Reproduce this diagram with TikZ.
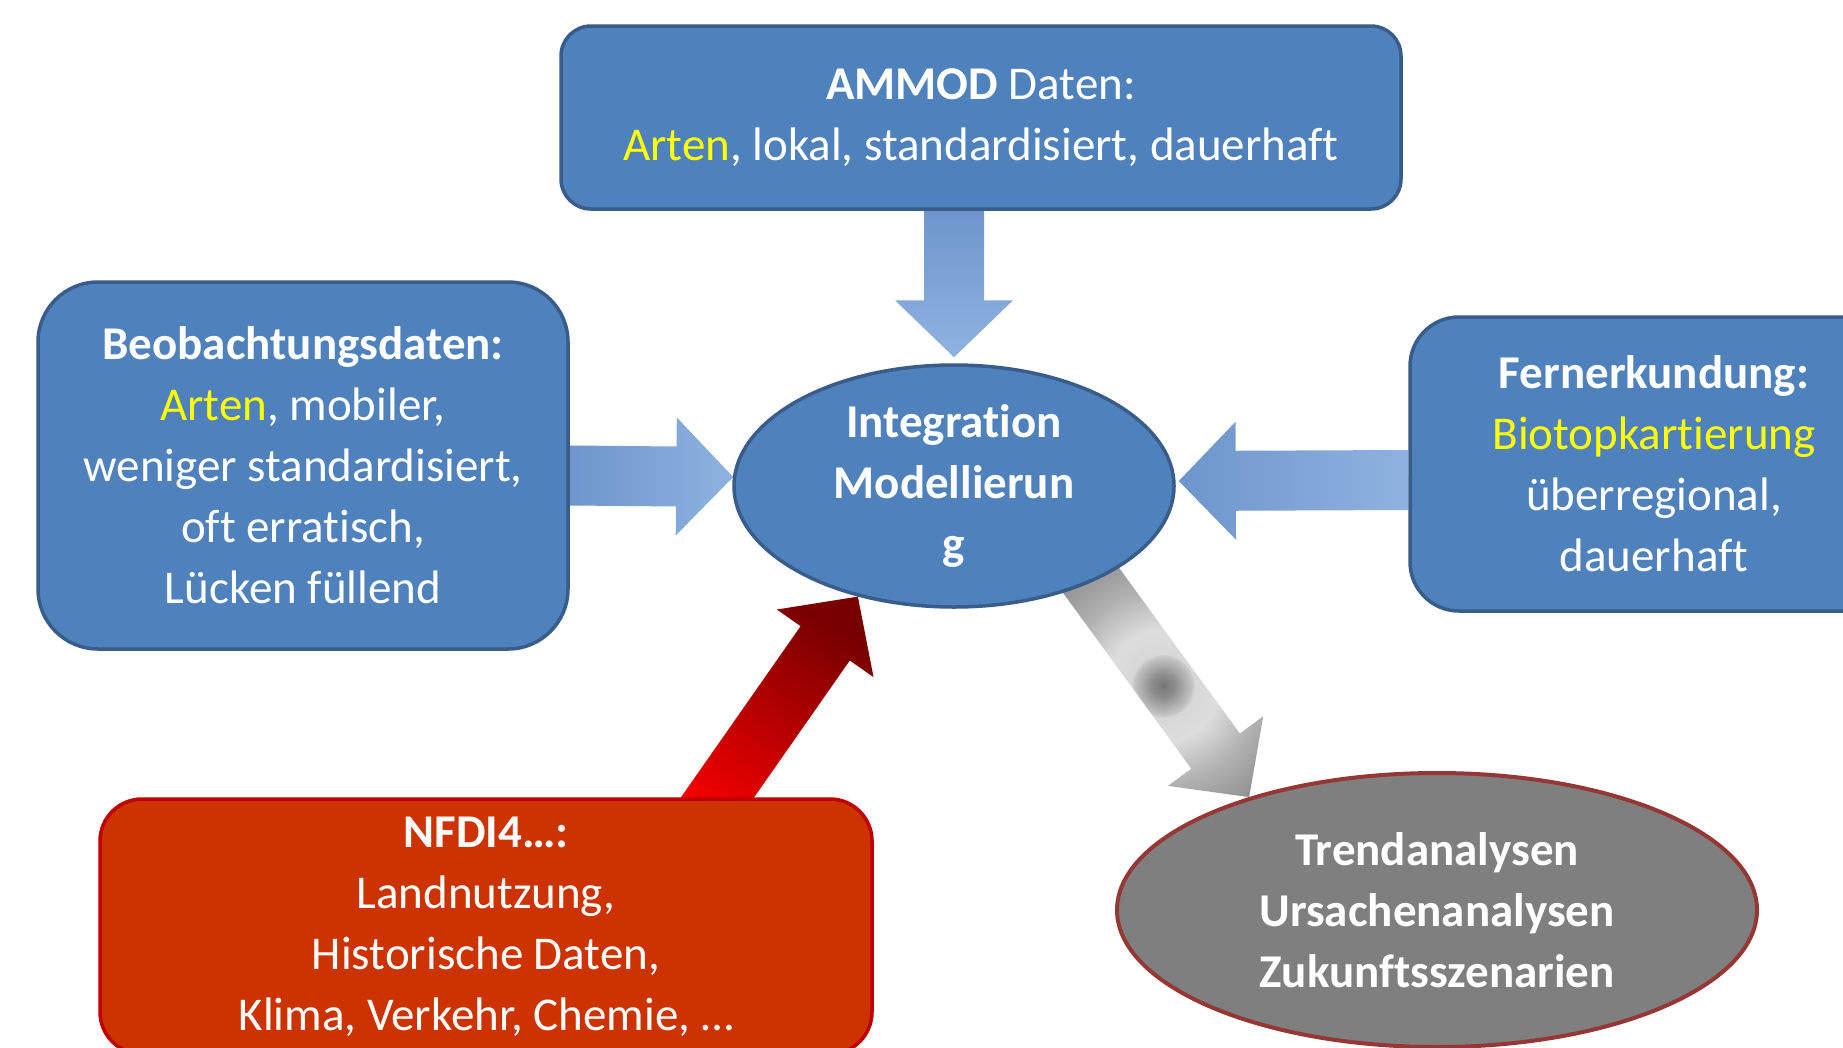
\documentclass[tikz,border=0pt]{standalone}
\usepackage{fontspec}
\setmainfont[Ligatures=NoCommon]{Carlito}
\usetikzlibrary{calc,shapes.geometric}
\pgfdeclarelayer{background}
\pgfsetlayers{background,main}
\definecolor{boxblue}{RGB}{79,129,189}
\definecolor{boxedge}{RGB}{56,93,138}
\definecolor{arrdark}{RGB}{110,150,204}
\definecolor{arrlight}{RGB}{143,178,224}
\definecolor{redfill}{RGB}{204,51,0}
\definecolor{rededge}{RGB}{192,0,0}
\definecolor{grayfill}{RGB}{127,127,127}
\definecolor{grayedge}{RGB}{149,55,53}
\definecolor{hl}{RGB}{255,255,0}
\definecolor{rdark}{RGB}{120,0,0}
\definecolor{rbright}{RGB}{255,0,0}
\definecolor{gA}{RGB}{118,118,118}
\definecolor{gB}{RGB}{142,142,142}
\definecolor{gC}{RGB}{196,196,196}
\definecolor{gD}{RGB}{216,216,216}
\definecolor{gE}{RGB}{221,221,221}
\definecolor{gF}{RGB}{178,178,178}
\definecolor{gG}{RGB}{148,148,148}
\pgfdeclareradialshading{grayspot}{\pgfpoint{0bp}{0bp}}{%
  color(0bp)=(gA); color(1.5bp)=(gB); color(3.6bp)=(gC); color(4bp)=(gD);
  color(7bp)=(gE); color(12bp)=(gF); color(17bp)=(gG); color(25bp)=(gG); color(50bp)=(gG)}
\newcommand\bkarrow[3]{%
  \coordinate (hb) at ($(#3)!57pt!(#2)$);
  \path[#1] ($(#2)!30pt!90:(#3)$) -- ($(hb)!30pt!90:(#3)$) -- ($(hb)!59pt!90:(#3)$)
    -- (#3) -- ($(hb)!59pt!-90:(#3)$) -- ($(hb)!30pt!-90:(#3)$) -- ($(#2)!30pt!-90:(#3)$) -- cycle;
}
\tikzset{
  txt/.style={text=white, align=center, font=\fontsize{47pt}{61pt}\selectfont, inner sep=0pt},
  bluebox/.style={txt, rectangle, fill=boxblue, draw=boxedge, line width=3.5pt},
  redbox/.style={txt, rectangle, fill=redfill, draw=rededge, line width=3.5pt},
  blueell/.style={txt, ellipse, fill=boxblue, draw=boxedge, line width=3.5pt, font=\fontsize{47pt}{61pt}\selectfont\bfseries},
  grayell/.style={txt, ellipse, fill=grayfill, draw=grayedge, line width=4pt, font=\fontsize{47pt}{61pt}\selectfont\bfseries},
}
\begin{document}
\begin{tikzpicture}[x=1pt,y=-1pt]
\useasboundingbox (0,0) rectangle (1843,1047);
\node[bluebox, minimum width=840pt, minimum height=183pt, rounded corners=30pt] (ammod) at (981,117.5)
  {\textbf{AMMOD} Daten:\\\textcolor{hl}{Arten}, lokal, standardisiert, dauerhaft};
\node[bluebox, minimum width=530pt, minimum height=367pt, rounded corners=60pt] (beob) at (303,465.5)
  {\textbf{Beobachtungsdaten:}\\\textcolor{hl}{Arten}, mobiler,\\weniger standardisiert,\\oft erratisch,\\Lücken füllend};
\node[bluebox, minimum width=488pt, minimum height=294pt, rounded corners=49pt] (fern) at (1654,464)
  {\textbf{Fernerkundung:}\\\textcolor{hl}{Biotopkartierung}\\überregional,\\dauerhaft};
\node[redbox, minimum width=772pt, minimum height=255pt, rounded corners=42pt] (nfdi) at (486,926.5)
  {\textbf{NFDI4…:}\\Landnutzung,\\Historische Daten,\\Klima, Verkehr, Chemie, …};
\node[blueell, minimum width=440pt, minimum height=242pt] (integ) at (954,486)
  {Integration\\Modellierun\\g};
\node[grayell, minimum width=640pt, minimum height=274pt] (trend) at (1437,910)
  {Trendanalysen\\Ursachenanalysen\\Zukunftsszenarien};
\coordinate (rs) at (687,841);
\coordinate (gs) at (1074,557);
\coordinate (spot) at (1163,686);
\begin{pgfonlayer}{background}
\fill[white] (0,0) rectangle (1843,1047);
\bkarrow{shade, top color=arrdark, bottom color=arrlight}{integ.north |- ammod.south}{$(integ.north)+(0,-6)$}
\bkarrow{shade, left color=arrdark, right color=arrlight}{$(beob.east)+(0,10)$}{$(integ.west)+(1,-9)$}
\bkarrow{shade, left color=arrdark, right color=arrlight}{$(fern.west)+(0,16)$}{$(integ.east)+(3,-5)$}
\bkarrow{shade, bottom color=rbright, top color=rdark, shading angle=-35}{rs}{integ.229}
\begin{scope}
\bkarrow{clip}{gs}{trend.149.5}
\shade[shading=grayspot] (spot) circle (200);
\end{scope}
\end{pgfonlayer}
\end{tikzpicture}
\end{document}
